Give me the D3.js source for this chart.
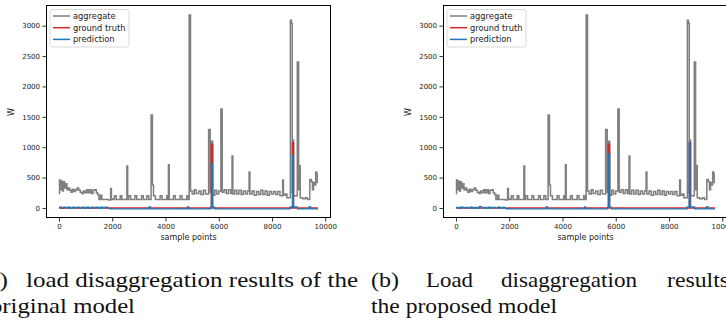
<!DOCTYPE html>
<html><head><meta charset="utf-8">
<script src="https://cdn.jsdelivr.net/npm/d3@7"></script>
<style>body{margin:0;background:#fff}svg{display:block}</style>
</head><body><svg id="c" width="726" height="323"></svg>
<script>
// ---- data ----
const aggregateX = [0,20,60,90,130,170,210,260,300,350,400,450,500,560,620,680,740,800,860,920,980,1040,1100,1160,1220,1280,1340,1400,1450,1500,1560,1610,1800,1860,1940,1970,2000,2080,2150,2300,2360,2550,2580,2620,2690,2850,2920,3100,3170,3300,3370,3460,3510,3550,3620,3800,3870,4050,4090,4110,4140,4300,4370,4550,4620,4800,4860,4890,4940,5000,5080,5150,5250,5330,5420,5500,5620,5680,5720,5770,5850,5920,6000,6080,6130,6200,6280,6360,6440,6500,6530,6600,6680,6760,6840,6920,7000,7080,7140,7170,7250,7330,7420,7500,7580,7660,7740,7820,7900,7980,8060,8140,8220,8300,8400,8430,8500,8560,8690,8730,8760,8780,8810,8950,9000,9030,9060,9150,9250,9330,9420,9480,9520,9560,9600,9640,9680,9700,9730];
const aggregateW = [240,460,300,440,280,430,330,400,300,330,290,260,310,270,300,330,290,260,240,280,250,300,250,300,240,290,300,250,220,140,210,140,140,130,320,150,140,200,140,200,140,690,140,200,140,200,140,200,140,200,140,1530,380,200,140,200,140,200,140,710,140,200,140,200,140,200,140,3175,280,230,300,240,280,220,290,230,1290,260,1100,210,290,230,280,1630,260,300,240,300,240,855,230,290,230,290,220,280,230,280,590,230,280,210,270,220,290,220,280,210,270,230,270,220,270,200,460,210,230,170,3090,3040,250,1120,200,2400,300,700,170,150,170,140,470,430,300,420,380,590,560,420,420];

const groundTruthX = [0,5720,5770,8770,8810,9730];
const groundTruthW = [0,1050,0,1075,0,0];

const predOrigX = [0,90,170,260,340,430,520,600,690,780,860,950,1040,1120,1210,1300,1380,1470,1560,1650,1740,1830,1900,3380,3440,4830,4870,5700,5730,5770,5840,8680,8775,8805,8960,9380,9450,9730];
const predOrigW = [12,-6,14,-4,12,-6,14,-4,12,-6,14,-4,12,-6,14,-4,12,-6,14,-4,12,-6,-16,18,-16,18,-16,14,735,14,-16,16,870,16,-16,18,-16,-16];

const predPropX = [0,100,180,270,350,440,530,610,700,790,870,960,1050,1130,1220,1310,1390,1480,1570,1660,1750,1840,1900,3380,3440,4830,4870,5700,5730,5770,5840,8680,8755,8790,8960,9400,9470,9730];
const predPropW = [10,-6,12,-4,10,-6,12,-4,10,-6,22,-4,10,-6,12,-4,10,-6,12,-4,10,-6,-16,18,-16,18,-16,14,890,14,-16,16,1070,16,-16,18,-16,-16];

const xTicks = [0,2000,4000,6000,8000,10000];
const yTicks = [0,500,1000,1500,2000,2500,3000];
const legendLabels = ["aggregate","ground truth","prediction"];
const colors = ["#7f7f7f","#d62728","#1f77b4"];

// ---- drawing ----
const svg = d3.select("#c");
svg.append("rect").attr("width",726).attr("height",323).attr("fill","#fff");

const zip = (xs, ys) => xs.map((x,i)=>[x, ys[i]]);

function panel(left, id, pred){
  const top = 5, bottom = 218, right = left + 285;
  const x = d3.scaleLinear().domain([-487, 10216]).range([left, right]);
  const y = d3.scaleLinear().domain([-165, 3340]).range([bottom, top]);
  const g = svg.append("g");
  const clipId = "clip" + id;
  svg.append("clipPath").attr("id", clipId).append("rect")
    .attr("x", left).attr("y", top).attr("width", right-left).attr("height", bottom-top);
  const line = d3.line().x(d=>x(d[0])).y(d=>y(d[1])).curve(d3.curveStepAfter);
  const plot = g.append("g").attr("clip-path", `url(#${clipId})`);
  const series = [zip(aggregateX, aggregateW), zip(groundTruthX, groundTruthW), pred];
  const widths = [1.5, 1.4, 1.3];
  series.forEach((s,i)=>{
    plot.append("path").datum(s).attr("d", line).attr("fill","none")
      .attr("stroke", colors[i]).attr("stroke-width", widths[i]);
  });
  // axes
  const xa = g.append("g").attr("transform",`translate(0,${bottom})`)
    .call(d3.axisBottom(x).tickValues(xTicks).tickFormat(d3.format("d")).tickSize(3.5).tickPadding(2.5));
  const ya = g.append("g").attr("transform",`translate(${left},0)`)
    .call(d3.axisLeft(y).tickValues(yTicks).tickFormat(d3.format("d")).tickSize(3.5).tickPadding(2.5));
  [xa, ya].forEach(a=>{
    a.select(".domain").remove();
    a.selectAll("line").attr("stroke","#000").attr("stroke-width",0.8);
    a.selectAll("text").attr("font-family","DejaVu Sans").attr("font-size",7).attr("fill","#222");
  });
  // frame
  g.append("rect").attr("x", left+0.5).attr("y", top+0.5).attr("width", right-left-1).attr("height", bottom-top-1)
    .attr("fill","none").attr("stroke","#000").attr("stroke-width",1);
  // labels
  g.append("text").attr("x", (left+right)/2).attr("y", 240).attr("text-anchor","middle")
    .attr("font-family","DejaVu Sans").attr("font-size",8).attr("fill","#222").text("sample points");
  g.append("text").attr("transform",`translate(${left-32},${112}) rotate(-90)`).attr("text-anchor","middle")
    .attr("font-family","DejaVu Sans").attr("font-size",8).attr("fill","#222").text("W");
  // legend
  const lg = g.append("g").attr("transform",`translate(${left+4},9.5)`);
  lg.append("rect").attr("width",79).attr("height",37.5).attr("rx",2)
    .attr("fill","#fff").attr("fill-opacity",0.8).attr("stroke","#d0d0d0").attr("stroke-width",0.8);
  legendLabels.forEach((t,i)=>{
    const yy = 6.5 + i*11.7;
    lg.append("line").attr("x1",3).attr("x2",20).attr("y1",yy).attr("y2",yy)
      .attr("stroke",colors[i]).attr("stroke-width",1.5);
    lg.append("text").attr("x",23).attr("y",yy+2.9).attr("font-family","DejaVu Sans")
      .attr("font-size",8.3).attr("fill","#222").text(t);
  });
}

panel(46, "a", zip(predOrigX, predOrigW));
panel(443, "b", zip(predPropX, predPropW));

// captions
const cap = (txt, x, y, len) => {
  svg.append("text").attr("x",x).attr("y",y)
    .attr("font-family","Liberation Serif, serif").attr("font-size",21.5).attr("fill","#111")
    .attr("textLength", len).attr("lengthAdjust","spacingAndGlyphs").text(txt);
};
cap("(a)", -20, 287, 28);
cap("load disaggregation results of the", 26, 287, 332);
cap("original model", -10, 313, 145);
cap("(b)", 371, 287, 28);
cap("Load", 426, 287, 47);
cap("disaggregation", 501, 287, 136);
cap("results", 667, 287, 62);
cap("the proposed model", 371, 313, 186);
</script></body></html>
